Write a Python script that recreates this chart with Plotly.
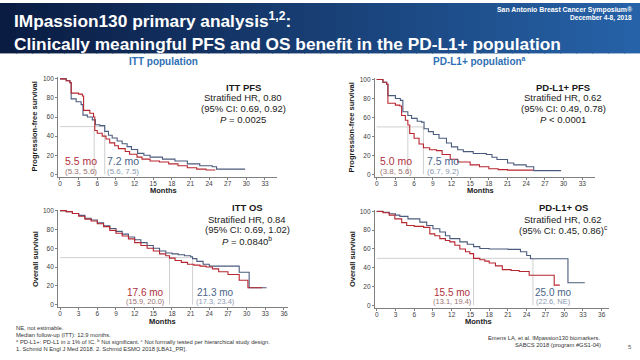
import plotly.graph_objects as go

# ---------------- data ----------------
pfs_month_ticks = [0, 3, 6, 9, 12, 15, 18, 21, 24, 27, 30, 33]
os_month_ticks = [0, 3, 6, 9, 12, 15, 18, 21, 24, 27, 30, 33, 36]
surv_ticks = [0, 20, 40, 60, 80, 100]

# ITT PFS
itt_pfs_plac_t = [0, 1.0, 1.6, 1.8, 3.0, 3.6, 3.8, 4.8, 5.4, 5.6, 6.0, 6.8, 7.4, 8.0, 8.8, 9.4, 10.5, 11.2, 12.4, 13.2, 14.5, 16.0, 17.5, 19.0, 20.5, 22.0, 23.5, 25.0]
itt_pfs_plac_s = [100, 98, 96, 85, 84, 82, 67, 64, 60, 46, 43, 40, 37, 33, 30, 27, 24, 21, 18, 16, 14, 13, 11, 9, 7, 5.5, 4.5, 4.5]
itt_pfs_atezo_t = [0, 1.0, 1.6, 1.8, 2.6, 3.4, 3.7, 4.4, 5.2, 5.7, 6.4, 7.2, 7.8, 8.4, 9.2, 10.0, 10.8, 11.5, 12.5, 13.5, 14.5, 16.5, 18.5, 20.5, 22.5, 24.5, 25.2, 29.8]
itt_pfs_atezo_s = [100, 98, 96, 79, 76, 73, 62, 60, 57, 52, 51, 45, 41, 38, 35, 32, 29, 26, 22, 20, 18, 16, 14, 11, 9, 8, 5.5, 5.5]
itt_pfs_medians = [5.5, 7.2]

# PD-L1+ PFS
pdl1_pfs_plac_t = [0, 1.0, 1.6, 1.8, 3.0, 3.7, 4.0, 4.6, 5.0, 5.3, 6.0, 6.8, 7.5, 8.5, 9.6, 10.5, 11.8, 13.0, 15.0, 16.5, 18.0, 19.5, 21.0, 25.1]
pdl1_pfs_plac_s = [100, 97, 95, 75, 73, 72, 62, 57, 52, 43, 38, 32, 28, 26, 25, 21, 16, 13, 10, 8, 6, 5, 4.5, 4.5]
pdl1_pfs_atezo_t = [0, 1.0, 1.6, 1.8, 3.0, 3.8, 4.2, 5.0, 5.6, 6.5, 7.2, 7.6, 8.3, 9.1, 10.0, 11.2, 12.0, 13.0, 13.9, 15.5, 17.6, 18.5, 19.3, 21.0, 22.0, 24.0, 25.2, 29.6]
pdl1_pfs_atezo_s = [100, 97, 95, 83, 80, 78, 66, 62, 59, 56, 55, 48, 45, 42, 38, 33, 29, 26, 24, 22, 21, 18, 15.6, 12, 10, 8, 4, 4]
pdl1_pfs_medians = [5.0, 7.5]

# ITT OS
itt_os_plac_t = [0, 1, 2, 3, 4, 5, 6, 7, 8, 9, 10, 11, 12, 13, 14, 15, 16, 17, 17.6, 18.5, 19.5, 20.5, 21.5, 22.5, 23.5, 24.5, 25.5, 27, 28.8, 30.2, 32.5]
itt_os_plac_s = [100, 99, 97, 94, 91, 89, 86, 83, 79, 76, 73, 70, 66, 63, 60, 57, 54, 52, 49.5, 47, 45, 43, 42, 41, 40, 38, 35, 32, 26, 18, 18]
itt_os_atezo_t = [0, 1, 2, 3, 4, 5, 6, 7, 8, 9, 10, 11, 12, 13, 14, 15, 16, 17, 18, 19, 20, 21, 21.3, 22, 23, 24, 28.8, 30.4, 33.2]
itt_os_atezo_s = [100, 99, 97, 95, 92, 90, 87, 84, 81, 78, 75, 72, 69, 66, 63, 60, 57, 55, 54, 53, 52, 51, 49, 46, 43, 41, 34.5, 18, 18]
itt_os_medians = [17.6, 21.3]

# PD-L1+ OS
pdl1_os_plac_t = [0, 1, 2, 2.9, 4, 4.8, 6, 7.5, 8.5, 9.3, 10.1, 11, 11.7, 12.5, 13.3, 14.2, 14.9, 15.5, 16.5, 17.3, 18, 19, 20.1, 21.5, 22.8, 24.4, 28.4, 29.3]
pdl1_os_plac_s = [100, 98.5, 96, 92, 88, 85, 84, 83, 76, 74, 71, 69, 67.5, 64, 60, 57, 55, 50, 48.5, 47, 45, 42, 38, 37, 36, 32, 21.5, 21.5]
pdl1_os_atezo_t = [0, 1, 2, 3, 3.7, 5, 6.9, 8, 9, 10.1, 11, 11.7, 13.3, 14.5, 15.5, 16.5, 18, 21, 23, 24, 24.6, 30.6, 33.3]
pdl1_os_atezo_s = [100, 99, 97.5, 96, 94.7, 92, 88.5, 85, 81.5, 78, 74, 71, 67.5, 65, 62.5, 60.4, 60, 59.5, 57, 53, 49.5, 24, 24]
pdl1_os_medians = [15.5, 25.0]

# ---------------- styling ----------------
W, H = 640, 360
RED = "#b8262f"
BLUE = "#4b5b7e"
GRID = "#c4c4c4"
AX = "#808080"
SANS = "Liberation Sans, Arial, sans-serif"


def dom_x(zero, ppm, r):
    return [(zero + r[0] * ppm) / W, (zero + r[1] * ppm) / W]


def dom_y(zero, ppp, r):
    return [1 - (zero - r[0] * ppp) / H, 1 - (zero - r[1] * ppp) / H]


panels = [
    dict(xr=[-0.3, 35], yr=[-2.5, 101.5], x0=60, xs=6.212, y0=173.3, ys=0.966, ticks=pfs_month_ticks,
         plac=(itt_pfs_plac_t, itt_pfs_plac_s), atezo=(itt_pfs_atezo_t, itt_pfs_atezo_s), med=itt_pfs_medians),
    dict(xr=[-0.3, 35], yr=[-2.5, 101.5], x0=376.7, xs=6.23, y0=173.3, ys=0.96, ticks=pfs_month_ticks,
         plac=(pdl1_pfs_plac_t, pdl1_pfs_plac_s), atezo=(pdl1_pfs_atezo_t, pdl1_pfs_atezo_s), med=pdl1_pfs_medians),
    dict(xr=[-0.3, 36.6], yr=[-3, 101], x0=60, xs=6.222, y0=305, ys=0.95, ticks=os_month_ticks,
         plac=(itt_os_plac_t, itt_os_plac_s), atezo=(itt_os_atezo_t, itt_os_atezo_s), med=itt_os_medians),
    dict(xr=[-0.3, 37.2], yr=[-3, 101], x0=376.7, xs=6.25, y0=305.7, ys=0.95, ticks=os_month_ticks,
         plac=(pdl1_os_plac_t, pdl1_os_plac_s), atezo=(pdl1_os_atezo_t, pdl1_os_atezo_s), med=pdl1_os_medians),
]

fig = go.Figure()
layout = {}
for i, p in enumerate(panels, start=1):
    sx = "" if i == 1 else str(i)
    xa, ya = "x" + sx, "y" + sx
    layout["xaxis" + sx] = dict(
        domain=dom_x(p["x0"], p["xs"], p["xr"]), range=p["xr"], anchor=ya,
        tickvals=p["ticks"], ticks="outside", ticklen=2, tickcolor=AX, showline=True, linecolor=AX,
        linewidth=1, showgrid=False, zeroline=False, tickfont=dict(size=6.5, color="#404040", family=SANS),
        ticklabelstandoff=-2, fixedrange=True)
    layout["yaxis" + sx] = dict(
        domain=dom_y(p["y0"], p["ys"], p["yr"]), range=p["yr"], anchor=xa,
        tickvals=surv_ticks, ticks="outside", ticklen=2, tickcolor=AX, showline=True, linecolor=AX,
        linewidth=1, showgrid=False, zeroline=False, tickfont=dict(size=6.5, color="#404040", family=SANS),
        fixedrange=True)
    m_hi = max(p["med"])
    # median reference lines
    fig.add_trace(go.Scatter(x=[0, m_hi], y=[50, 50], mode="lines", line=dict(color=GRID, width=0.8),
                             xaxis=xa, yaxis=ya, hoverinfo="skip", showlegend=False))
    for m in p["med"]:
        fig.add_trace(go.Scatter(x=[m, m], y=[0, 50], mode="lines", line=dict(color=GRID, width=0.8),
                                 xaxis=xa, yaxis=ya, hoverinfo="skip", showlegend=False))
    fig.add_trace(go.Scatter(x=p["atezo"][0], y=p["atezo"][1], mode="lines", line_shape="hv",
                             line=dict(color=BLUE, width=1.1), xaxis=xa, yaxis=ya, showlegend=False))
    fig.add_trace(go.Scatter(x=p["plac"][0], y=p["plac"][1], mode="lines", line_shape="hv",
                             line=dict(color=RED, width=1.1), xaxis=xa, yaxis=ya, showlegend=False))

annotations = []


def ann(text, x, y, size, color="#1a1a1a", xanchor="center", angle=0, align="center"):
    annotations.append(dict(text=text, x=x / W, y=1 - y / H, xref="paper", yref="paper",
                            xanchor=xanchor, yanchor="middle", showarrow=False, textangle=angle,
                            align=align, font=dict(size=size, color=color, family=SANS)))


# header (two lines in one text block)
ann("<b>IMpassion130 primary analysis<sup>1,2</sup>:<br>"
    "Clinically meaningful PFS and OS benefit in the PD-L1+ population</b>",
    12, 28.5, 17.3, "white", "left", align="left")
ann("<b>San Antonio Breast Cancer Symposium®</b>", 634, 7.5, 6.9, "white", "right")
ann("<b>December 4-8, 2018</b>", 634, 15.5, 6.6, "white", "right")

# section headings
ann("<b>ITT population</b>", 163, 59, 10, "#2f6fb5")
ann("<b>PD-L1+ population<sup>a</sup></b>", 479, 59, 10, "#2f6fb5")

# stats boxes
ann("<b>ITT PFS</b>", 243, 85, 9.5)
ann("Stratified HR, 0.80", 243, 96, 9.5)
ann("(95% CI: 0.69, 0.92)", 243, 107, 9.5)
ann("<i>P</i> = 0.0025", 243, 118, 9.5)

ann("<b>PD-L1+ PFS</b>", 563, 85, 9.5)
ann("Stratified HR, 0.62", 563, 96, 9.5)
ann("(95% CI: 0.49, 0.78)", 563, 107, 9.5)
ann("<i>P</i> &lt; 0.0001", 563, 118, 9.5)

ann("<b>ITT OS</b>", 247, 207, 9.5)
ann("Stratified HR, 0.84", 247, 218.5, 9.5)
ann("(95% CI: 0.69, 1.02)", 247, 229.5, 9.5)
ann("<i>P</i> = 0.0840<sup>b</sup>", 247, 240.5, 9.5)

ann("<b>PD-L1+ OS</b>", 563, 207, 9.5)
ann("Stratified HR, 0.62", 563, 218.5, 9.5)
ann("(95% CI: 0.45, 0.86)<sup>c</sup>", 563, 229.5, 9.5)

# median labels
RED_T, RED_L = "#b03040", "#9c7272"
BLU_T, BLU_L = "#4a6388", "#8a98b0"
ann("5.5 mo", 62.5, 160, 10.5, RED_T, "left")
ann("(5.3, 5.6)", 62.5, 170, 8, RED_L, "left")
ann("7.2 mo", 105, 160, 10.5, BLU_T, "left")
ann("(5.6, 7.5)", 105, 170, 8, BLU_L, "left")
ann("5.0 mo", 377.5, 160, 10.5, RED_T, "left")
ann("(3.8, 5.6)", 377.5, 170, 8, RED_L, "left")
ann("7.5 mo", 425, 160, 10.5, BLU_T, "left")
ann("(6.7, 9.2)", 425, 170, 8, BLU_L, "left")
ann("17.6 mo", 145, 293, 10, RED_T)
ann("(15.9, 20.0)", 145, 301.5, 7.5, RED_L)
ann("21.3 mo", 215, 293, 10, BLU_T)
ann("(17.3, 23.4)", 215, 301.5, 7.5, BLU_L)
ann("15.5 mo", 452, 293, 10, RED_T)
ann("(13.1, 19.4)", 452, 301.5, 7.5, RED_L)
ann("25.0 mo", 553, 293, 10, BLU_T)
ann("(22.6, NE)", 553, 301.5, 7.5, BLU_L)

# axis titles
ann("<b>Progression-free survival</b>", 35, 125, 7.5, angle=-90)
ann("<b>Progression-free survival</b>", 352, 126, 7.5, angle=-90)
ann("<b>Overall survival</b>", 35, 259, 7.5, angle=-90)
ann("<b>Overall survival</b>", 352, 259, 7.5, angle=-90)
ann("<b>Months</b>", 163, 190, 7.5)
ann("<b>Months</b>", 480, 190, 7.5)
ann("<b>Months</b>", 162, 322.5, 7.5)
ann("<b>Months</b>", 478, 322.5, 7.5)

# footnotes
FN = "#333333"
ann("NE, not estimable.", 14, 328.5, 5.8, FN, "left")
ann("Median follow-up (ITT): 12.9 months.", 14, 335.5, 5.8, FN, "left")
ann("<sup>a</sup> PD-L1+: PD-L1 in ≥ 1% of IC. <sup>b</sup> Not significant. <sup>c</sup> Not formally tested per hierarchical study design.",
    14, 342.5, 5.8, FN, "left")
ann("1. Schmid N Engl J Med 2018. 2. Schmid ESMO 2018 [LBA1_PR].", 14, 349.5, 5.8, FN, "left")
ann("Emens LA, et al. IMpassion130 biomarkers.", 603, 339, 5.8, FN, "right")
ann("SABCS 2018 (program #GS1-04)", 603, 346, 5.8, FN, "right")
ann("5", 630, 348, 6, "#555555")

# header gradient background
shapes = []
N = 40
c0, c1 = (10, 28, 66), (38, 98, 168)
for k in range(N):
    f = k / (N - 1)
    col = "rgb(%d,%d,%d)" % tuple(round(a + (b - a) * f) for a, b in zip(c0, c1))
    shapes.append(dict(type="rect", xref="paper", yref="paper", x0=k / N, x1=(k + 1) / N + 0.002,
                       y0=1 - 51 / H, y1=1, fillcolor=col, line=dict(width=0), layer="below"))

fig.update_layout(width=W, height=H, margin=dict(l=0, r=0, t=0, b=0), paper_bgcolor="white",
                  plot_bgcolor="white", annotations=annotations, shapes=shapes, showlegend=False,
                  font=dict(family=SANS), **layout)

fig.write_html("out.html", config={"displayModeBar": False, "staticPlot": True},
               post_script="document.body.style.margin='0px';document.body.style.padding='0px';"
                           "document.body.style.overflow='hidden';")
